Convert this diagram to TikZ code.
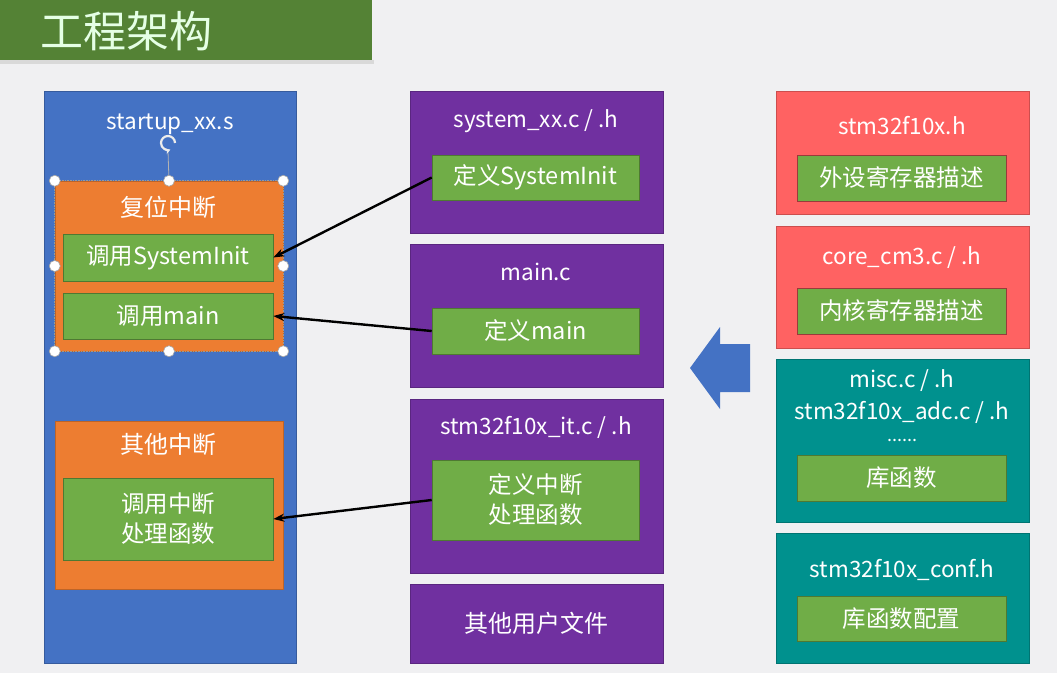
\documentclass[tikz,border=0pt]{standalone}
\usepackage{fontspec}
\setmainfont{Noto Sans CJK SC}
\usetikzlibrary{arrows.meta}
\definecolor{bggray}{HTML}{F0F0F2}
\definecolor{titlegreen}{HTML}{548235}
\definecolor{startblue}{HTML}{4472C4}
\definecolor{intorange}{HTML}{ED7D31}
\definecolor{funcgreen}{HTML}{70AD47}
\definecolor{userpurple}{HTML}{7030A0}
\definecolor{regred}{HTML}{FF6262}
\definecolor{libteal}{HTML}{00918E}
\tikzset{
  outerbox/.style={fill=#1, draw=#1!80!black, line width=0.5pt, inner sep=0pt},
  funcbox/.style={fill=funcgreen, draw=funcgreen!70!black, line width=0.6pt,
    text=white, inner sep=0pt, align=center, font=\fontsize{23.5}{30}\selectfont},
  filelabel/.style={text=white, inner sep=0pt, font=\fontsize{22.5}{26}\selectfont},
  cjklabel/.style={text=white, inner sep=0pt, font=\fontsize{24}{28}\selectfont},
  callarrow/.style={-{Stealth[length=11pt,width=8pt]}, line width=2.4pt, black},
  handle/.style={fill=white, draw=gray!70, line width=0.6pt}
}
\begin{document}
\begin{tikzpicture}[x=1pt,y=-1pt]
    \useasboundingbox (0,0) rectangle (1057,673);
    \fill[bggray] (0,0) rectangle (1057,673);
    % Title bar
    \fill[gray!30] (0,60) rectangle (374,64);
    \fill[titlegreen] (0,0) rectangle (372,60);
    \node (title) at (40,31) [anchor=west, inner sep=0pt, text=white!90!green,
      font=\fontsize{43}{48}\selectfont] {工程架构};
    % Left column: startup file
    \node (startup) at (170,377) [outerbox=startblue, minimum width=252, minimum height=572] {};
    \node (startuplabel) at (170,124) [filelabel] {startup\_xx.s};
    \node (reset) at (169,266) [outerbox=intorange, minimum width=228, minimum height=170] {};
    \node (resetlabel) at (168,207) [cjklabel] {复位中断};
    \node (callinit) at (168,257.5) [funcbox, minimum width=210, minimum height=47] {调用SystemInit};
    \node (callmain) at (168,316) [funcbox, minimum width=210, minimum height=46] {调用main};
    \node (other) at (169,505) [outerbox=intorange, minimum width=228, minimum height=168] {};
    \node (otherlabel) at (168,444) [cjklabel] {其他中断};
    \node (callisr) at (168,519) [funcbox, minimum width=210, minimum height=82] {调用中断\\处理函数};
    % Selection frame round the reset box
    \coordinate (rot) at (168,143);
    \draw[gray!60, line width=0.8pt] (168,151) -- (reset.north);
    \draw[white!85!gray, line width=2.2pt, -{Stealth[length=5pt,width=6pt]}]
      ([shift={(7pt,0pt)}]rot) arc[start angle=0, end angle=290, radius=7pt];
    \draw[gray!80, densely dotted, line width=0.6pt] (reset.north west) rectangle (reset.south east);
    \foreach \a in {north west, north, north east, west, east, south west, south, south east}
      \draw[handle] (reset.\a) circle (5.5pt);
    % Middle column: user files
    \node (sysbox) at (536.5,162) [outerbox=userpurple, minimum width=253, minimum height=142] {};
    \node (syslabel) at (536,121) [filelabel] {system\_xx.c / .h};
    \node (definit) at (535.5,177.5) [funcbox, minimum width=207, minimum height=45] {定义SystemInit};
    \node (mainbox) at (536.5,315.5) [outerbox=userpurple, minimum width=253, minimum height=143] {};
    \node (mainlabel) at (536,272) [filelabel] {main.c};
    \node (defmain) at (535.5,331) [funcbox, minimum width=207, minimum height=46] {定义main};
    \node (itbox) at (536.5,486) [outerbox=userpurple, minimum width=253, minimum height=174] {};
    \node (itlabel) at (536,427) [filelabel] {stm32f10x\_it.c / .h};
    \node (defisr) at (535.5,500) [funcbox, minimum width=207, minimum height=80] {定义中断\\处理函数};
    \node (userbox) at (536.5,623.5) [outerbox=userpurple, minimum width=253, minimum height=79,
      text=white, font=\fontsize{24}{28}\selectfont] {其他用户文件};
    % Right column: library files
    \node (regbox) at (902.5,152.5) [outerbox=regred, minimum width=253, minimum height=123] {};
    \node (reglabel) at (902,126) [filelabel] {stm32f10x.h};
    \node (defperiph) at (901.5,178) [funcbox, draw=regred!60!black, minimum width=209, minimum height=46] {外设寄存器描述};
    \node (corebox) at (902.5,287) [outerbox=regred, minimum width=253, minimum height=122] {};
    \node (corelabel) at (902,258) [filelabel] {core\_cm3.c / .h};
    \node (defcore) at (901.5,311) [funcbox, draw=regred!60!black, minimum width=209, minimum height=46] {内核寄存器描述};
    \node (libbox) at (902.5,440.5) [outerbox=libteal, minimum width=253, minimum height=163] {};
    \node (misclabel) at (902,381) [filelabel] {misc.c / .h};
    \node (adclabel) at (902,412) [filelabel] {stm32f10x\_adc.c / .h};
    \node (dotslabel) at (902,441) [filelabel, anchor=base, font=\fontsize{18}{20}\selectfont] {......};
    \node (deflib) at (901.5,478) [funcbox, minimum width=209, minimum height=46] {库函数};
    \node (confbox) at (902.5,598) [outerbox=libteal, minimum width=253, minimum height=130] {};
    \node (conflabel) at (902,570) [filelabel] {stm32f10x\_conf.h};
    \node (defconf) at (901.5,618.5) [funcbox, minimum width=209, minimum height=45] {库函数配置};
    % Big blue arrow pointing left
    \fill[startblue] (750,344) -- (720,344) -- (720,327) -- (690,368) -- (720,409)
      -- (720,392) -- (750,392) -- cycle;
    % Calls from definitions to the startup file
    \draw[callarrow] (definit.west) -- (callinit.east);
    \draw[callarrow] (defmain.west) -- (callmain.east);
    \draw[callarrow] (defisr.west) -- (callisr.east);
\end{tikzpicture}
\end{document}
